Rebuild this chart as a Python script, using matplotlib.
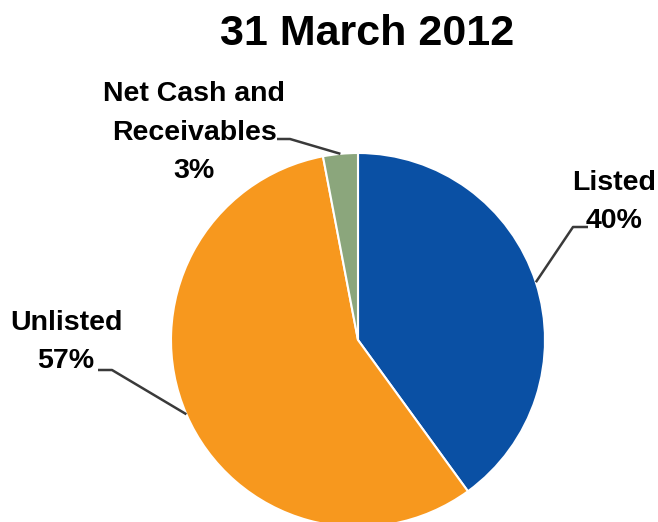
import numpy as np
import matplotlib
matplotlib.use("Agg")
import matplotlib.pyplot as plt

# Portfolio composition at 31 March 2012
categories = ["Listed", "Unlisted", "Net Cash and\nReceivables"]
shares = [40, 57, 3]
colors = ["#0A50A4", "#F7981E", "#8BA67C"]

title = "31 March 2012"

W, H = 658, 522
fig = plt.figure(figsize=(W / 100, H / 100), dpi=100)
ax = fig.add_axes([0, 0, 1, 1])

cx, cy, r = 358, H - 340, 187
ax.pie(shares, colors=colors, startangle=90, counterclock=False,
       center=(cx, cy), radius=r,
       wedgeprops=dict(edgecolor="white", linewidth=1.5))
ax.set_xlim(0, W)
ax.set_ylim(0, H)
ax.set_aspect("equal")
ax.axis("off")

label_font = ["Liberation Sans", "DejaVu Sans"]

# label text centre x and baseline of the last line (pixels from top),
# plus leader elbow points (pixels from top)
label_pos = [(614, 228), (66, 368), (194, 178)]
elbows = [
    [(588, 227), (573, 227)],
    [(98, 370), (112, 370)],
    [(277, 139), (290, 139)],
]

total = float(sum(shares))
cum = 0.0
for name, val, (lx, ly), elbow in zip(categories, shares, label_pos, elbows):
    mid = 90 - 360 * (cum + val / 2) / total
    cum += val
    ex = cx + r * np.cos(np.radians(mid))
    ey = cy + r * np.sin(np.radians(mid))
    text = f"{name}\n{val}%"
    ax.text(lx, H - ly, text, ha="center", va="baseline", ma="center",
            fontsize=20.5, fontweight="bold", family=label_font,
            linespacing=1.62, color="black")
    xs = [p[0] for p in elbow] + [ex]
    ys = [H - p[1] for p in elbow] + [ey]
    ax.plot(xs, ys, color="#3A3A3A", linewidth=1.8, solid_capstyle="butt")

ax.text(367, H - 45, title, ha="center", va="baseline",
        fontsize=31, fontweight="bold",
        family=["Liberation Sans", "DejaVu Sans"], color="black")

fig.savefig("out.png", dpi=100)
